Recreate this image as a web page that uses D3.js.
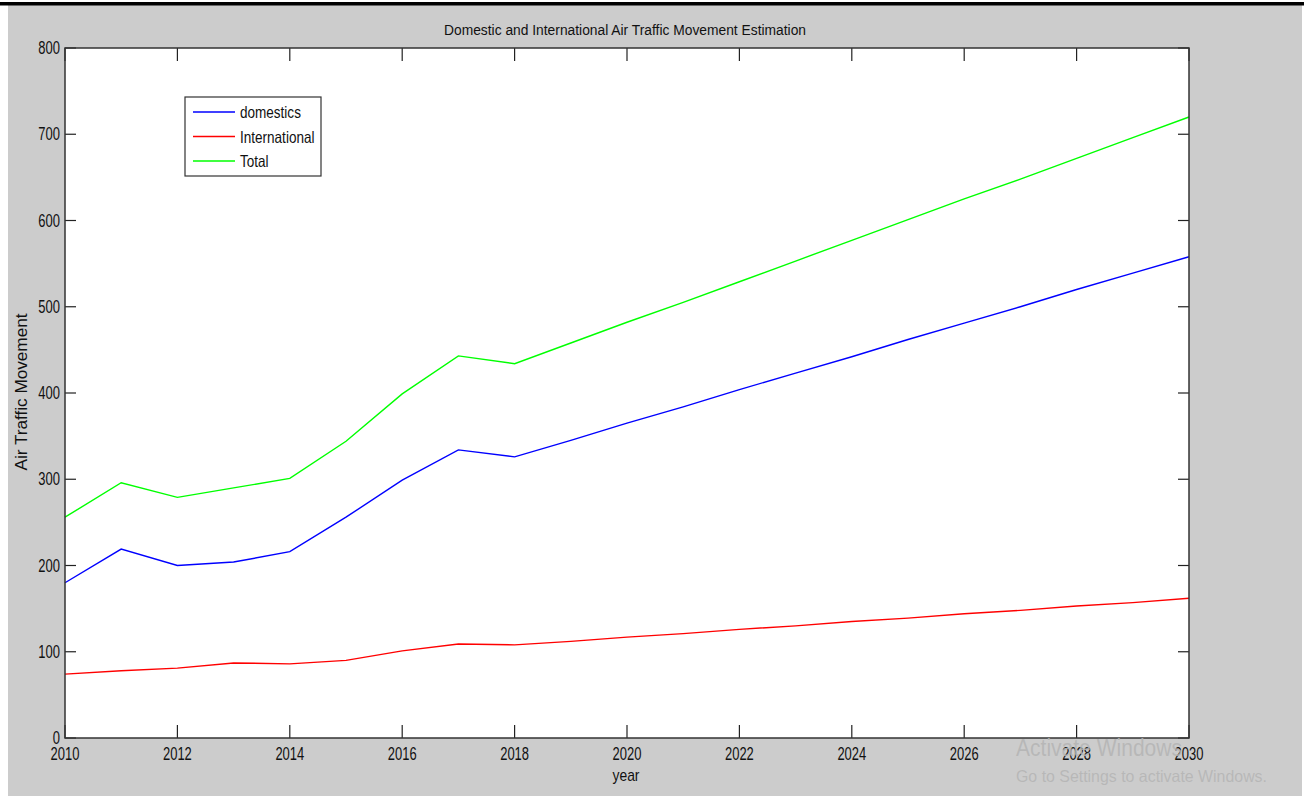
<!DOCTYPE html>
<meta charset="utf-8">
<script src="https://d3js.org/d3.v7.min.js"></script>
<style>
  body { margin: 0; background: #fff; }
  text { font-family: "Liberation Sans", Arial, sans-serif; }
</style>
<div id="my_dataviz"></div>
<script>

// data
var years = [2010, 2011, 2012, 2013, 2014, 2015, 2016, 2017, 2018, 2019, 2020,
             2021, 2022, 2023, 2024, 2025, 2026, 2027, 2028, 2029, 2030];
var domestics = [180, 219, 200, 204, 216, 256, 299, 334, 326, 345, 365,
                 384, 404, 423, 442, 462, 481, 500, 520, 539, 558];
var international = [74, 78, 81, 87, 86, 90, 101, 109, 108, 112, 117,
                     121, 126, 130, 135, 139, 144, 148, 153, 157, 162];
var total = [256, 296, 279, 290, 301, 344, 399, 443, 434, 458, 482,
             505, 529, 553, 577, 601, 625, 648, 672, 696, 720];
var seriesNames = ["domestics", "International", "Total"];
var seriesColors = ["#0000ff", "#ff0000", "#00ff00"];
var xTicks = [2010, 2012, 2014, 2016, 2018, 2020, 2022, 2024, 2026, 2028, 2030];
var yTicks = [0, 100, 200, 300, 400, 500, 600, 700, 800];

var W = 1304, H = 796;
var margin = {top: 48, right: 115, bottom: 58, left: 65},
    width = W - margin.left - margin.right,
    height = H - margin.top - margin.bottom;

var svg = d3.select("#my_dataviz")
  .append("svg")
    .attr("width", W)
    .attr("height", H);

// window background
svg.append("rect").attr("x", 8).attr("y", 5).attr("width", 1294).attr("height", H - 5)
  .attr("fill", "#cccccc");
svg.append("rect").attr("x", 0).attr("y", 2).attr("width", W).attr("height", 3.5)
  .attr("fill", "#000");

var g = svg.append("g")
  .attr("transform", "translate(" + margin.left + "," + margin.top + ")");

var x = d3.scaleLinear().domain([2010, 2030]).range([0, width]);
var y = d3.scaleLinear().domain([0, 800]).range([height, 0]);

g.append("rect").attr("width", width).attr("height", height).attr("fill", "#fff");

// squeeze text horizontally like the stretched screenshot
function squeeze(sel, f) {
  sel.each(function() {
    var len = this.getComputedTextLength();
    d3.select(this).attr("textLength", len * f).attr("lengthAdjust", "spacingAndGlyphs");
  });
}

// ticks on all four sides, pointing inward
g.selectAll(".xtb").data(xTicks).enter().append("line")
  .attr("x1", d => x(d)).attr("x2", d => x(d))
  .attr("y1", height).attr("y2", height - 13)
  .attr("stroke", "#222").attr("stroke-width", 1.2);
g.selectAll(".xtt").data(xTicks).enter().append("line")
  .attr("x1", d => x(d)).attr("x2", d => x(d))
  .attr("y1", 0).attr("y2", 13)
  .attr("stroke", "#222").attr("stroke-width", 1.2);
g.selectAll(".ytl").data(yTicks).enter().append("line")
  .attr("x1", 0).attr("x2", 11)
  .attr("y1", d => y(d)).attr("y2", d => y(d))
  .attr("stroke", "#222").attr("stroke-width", 1.2);
g.selectAll(".ytr").data(yTicks).enter().append("line")
  .attr("x1", width).attr("x2", width - 11)
  .attr("y1", d => y(d)).attr("y2", d => y(d))
  .attr("stroke", "#222").attr("stroke-width", 1.2);

// tick labels
g.selectAll(".xl").data(xTicks).enter().append("text")
  .attr("x", d => x(d)).attr("y", height + 22)
  .attr("text-anchor", "middle")
  .style("font-size", "18px").attr("fill", "#111")
  .text(d => d)
  .call(squeeze, 0.72);
g.selectAll(".yl").data(yTicks).enter().append("text")
  .attr("x", -5).attr("y", d => y(d) + 6)
  .attr("text-anchor", "end")
  .style("font-size", "18px").attr("fill", "#111")
  .text(d => d)
  .call(squeeze, 0.72);

// lines
var lineData = [domestics, international, total];
var line = d3.line()
  .x((d, i) => x(years[i]))
  .y(d => y(d));
g.selectAll(".series").data(lineData).enter().append("path")
  .attr("d", d => line(d))
  .attr("fill", "none")
  .attr("stroke", (d, i) => seriesColors[i])
  .attr("stroke-width", 1.4);

// box
g.append("rect").attr("width", width).attr("height", height)
  .attr("fill", "none").attr("stroke", "#333").attr("stroke-width", 1.5);

// legend
var leg = svg.append("g").attr("transform", "translate(185,97)");
leg.append("rect").attr("width", 136).attr("height", 79)
  .attr("fill", "#fff").attr("stroke", "#333").attr("stroke-width", 1.2);
seriesNames.forEach(function(name, i) {
  var ly = 15 + i * 24.5;
  leg.append("line").attr("x1", 8).attr("x2", 50).attr("y1", ly).attr("y2", ly)
    .attr("stroke", seriesColors[i]).attr("stroke-width", 1.4);
  leg.append("text").attr("x", 55).attr("y", ly + 6)
    .style("font-size", "16.5px").attr("fill", "#111")
    .text(name)
    .call(squeeze, 0.82);
});

// title and axis labels
svg.append("text")
  .attr("x", 625).attr("y", 35)
  .attr("text-anchor", "middle")
  .style("font-size", "15.5px").attr("fill", "#111")
  .attr("textLength", 362).attr("lengthAdjust", "spacingAndGlyphs")
  .text("Domestic and International Air Traffic Movement Estimation");

svg.append("text")
  .attr("text-anchor", "middle")
  .attr("transform", "translate(27,392) rotate(-90)")
  .style("font-size", "16px").attr("fill", "#111")
  .attr("textLength", 157).attr("lengthAdjust", "spacingAndGlyphs")
  .text("Air Traffic Movement");

svg.append("text")
  .attr("x", 626).attr("y", 781)
  .attr("text-anchor", "middle")
  .style("font-size", "17px").attr("fill", "#111")
  .attr("textLength", 27).attr("lengthAdjust", "spacingAndGlyphs")
  .text("year");

// screen watermark
svg.append("text").attr("x", 1016).attr("y", 756)
  .style("font-size", "23px").attr("fill", "#b4b4b4").attr("fill-opacity", 0.85)
  .attr("textLength", 166).attr("lengthAdjust", "spacingAndGlyphs")
  .text("Activate Windows");
svg.append("text").attr("x", 1016).attr("y", 782)
  .style("font-size", "16.5px").attr("fill", "#b4b4b4").attr("fill-opacity", 0.85)
  .attr("textLength", 251).attr("lengthAdjust", "spacingAndGlyphs")
  .text("Go to Settings to activate Windows.");

</script>
